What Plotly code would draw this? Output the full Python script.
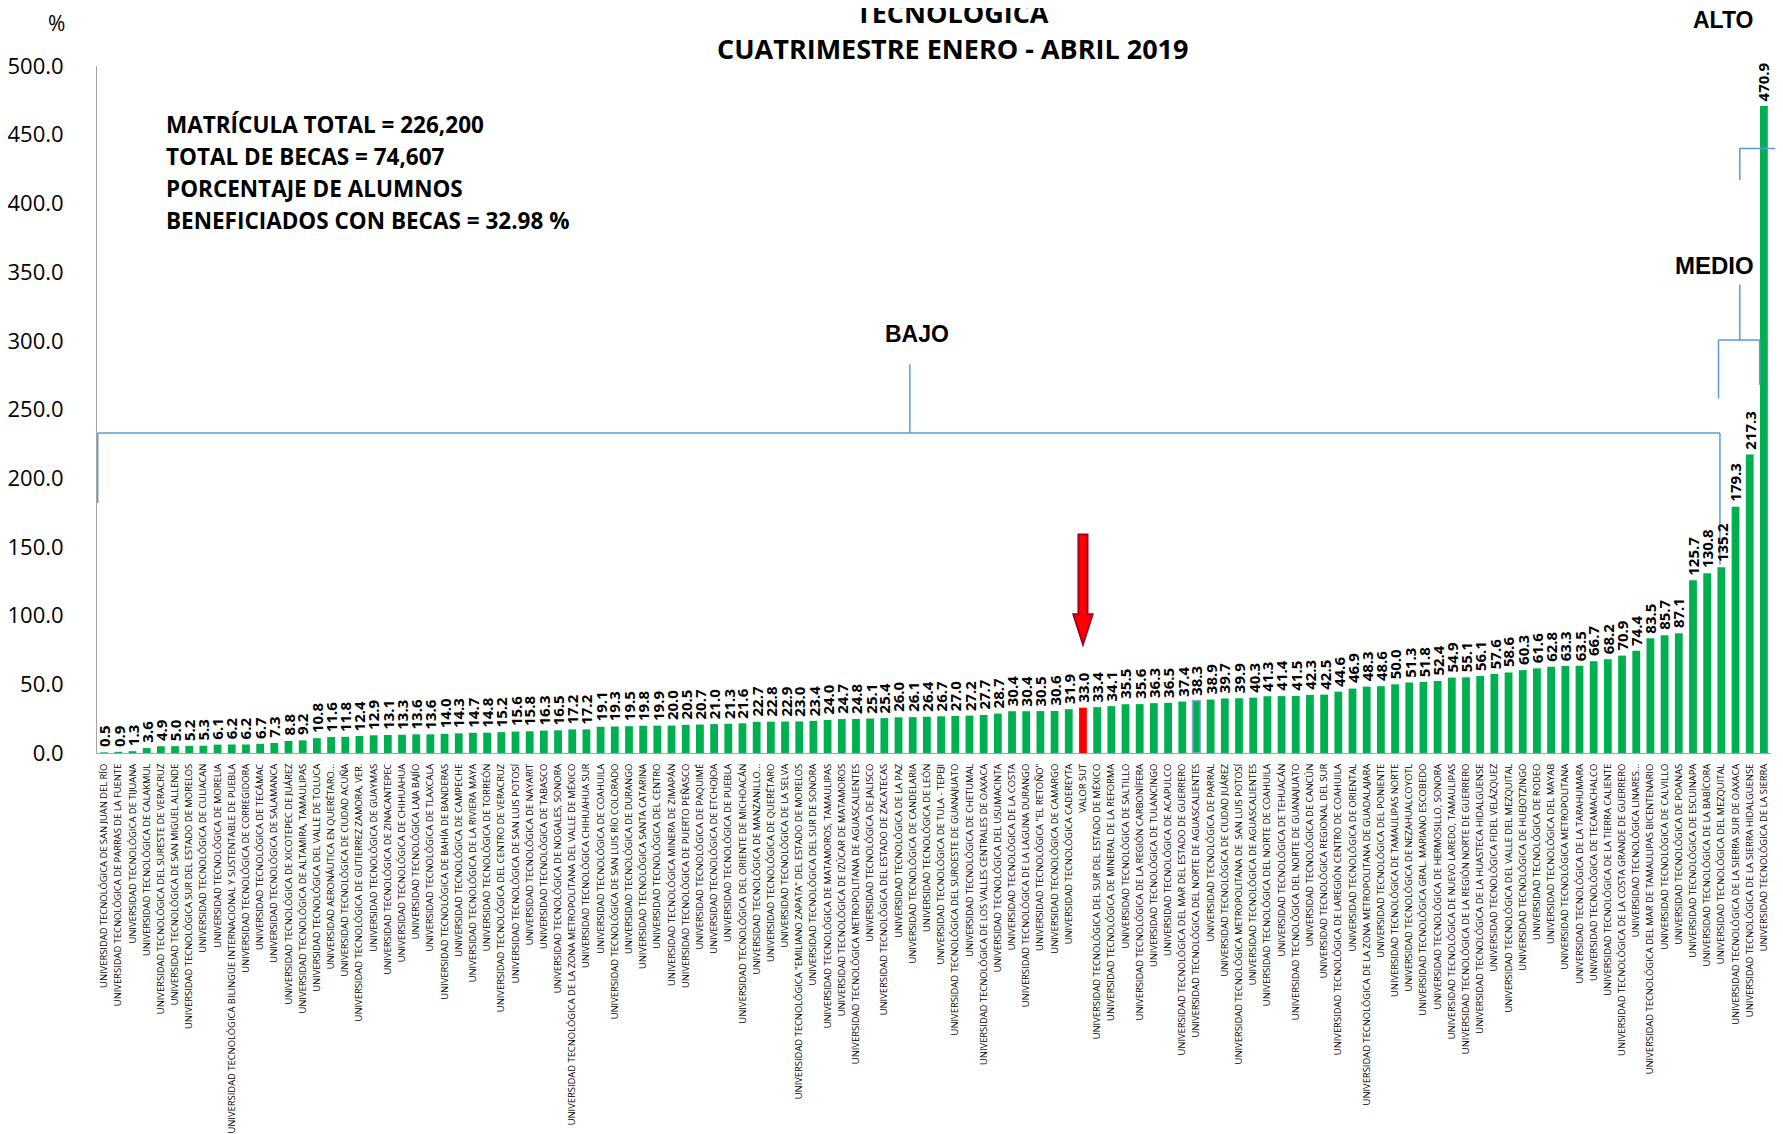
import plotly.graph_objects as go

universidades = [
    "UNIVERSIDAD TECNOLÓGICA DE SAN JUAN DEL RÍO",
    "UNIVERSIDAD TECNOLÓGICA DE PARRAS DE LA FUENTE",
    "UNIVERSIDAD TECNOLÓGICA DE TIJUANA",
    "UNIVERSIDAD TECNOLÓGICA DE CALAKMUL",
    "UNIVERSIDAD TECNOLÓGICA DEL SURESTE DE VERACRUZ",
    "UNIVERSIDAD TECNOLÓGICA DE SAN MIGUEL ALLENDE",
    "UNIVERSIDAD TECNOLÓGICA SUR DEL ESTADO DE MORELOS",
    "UNIVERSIDAD TECNOLÓGICA DE CULIACAN",
    "UNIVERSIDAD TECNOLÓGICA DE MORELIA",
    "UNIVERSIDAD TECNOLÓGICA BILINGÜE INTERNACIONAL Y SUSTENTABLE DE PUEBLA",
    "UNIVERSIDAD TECNOLÓGICA DE CORREGIDORA",
    "UNIVERSIDAD TECNOLÓGICA DE TECÁMAC",
    "UNIVERSIDAD TECNOLÓGICA DE SALAMANCA",
    "UNIVERSIDAD TECNOLÓGICA DE XICOTEPEC DE JUÁREZ",
    "UNIVERSIDAD TECNOLÓGICA DE ALTAMIRA, TAMAULIPAS",
    "UNIVERSIDAD TECNOLÓGICA DEL VALLE DE TOLUCA",
    "UNIVERSIDAD AERONÁUTICA EN QUERÉTARO...",
    "UNIVERSIDAD TECNOLÓGICA DE CIUDAD ACUÑA",
    "UNIVERSIDAD TECNOLÓGICA DE GUTIERREZ ZAMORA, VER.",
    "UNIVERSIDAD TECNOLÓGICA DE GUAYMAS",
    "UNIVERSIDAD TECNOLÓGICA DE ZINACANTEPEC",
    "UNIVERSIDAD TECNOLÓGICA DE CHIHUAHUA",
    "UNIVERSIDAD TECNOLÓGICA LAJA BAJÍO",
    "UNIVERSIDAD TECNOLÓGICA DE TLAXCALA",
    "UNIVERSIDAD TECNOLÓGICA DE BAHÍA DE BANDERAS",
    "UNIVERSIDAD TECNOLÓGICA DE CAMPECHE",
    "UNIVERSIDAD TECNOLÓGICA DE LA RIVIERA MAYA",
    "UNIVERSIDAD TECNOLÓGICA DE TORREÓN",
    "UNIVERSIDAD TECNOLÓGICA DEL CENTRO DE VERACRUZ",
    "UNIVERSIDAD TECNOLÓGICA DE SAN LUIS POTOSÍ",
    "UNIVERSIDAD TECNOLÓGICA DE NAYARIT",
    "UNIVERSIDAD TECNOLÓGICA DE TABASCO",
    "UNIVERSIDAD TECNOLÓGICA DE NOGALES, SONORA",
    "UNIVERSIDAD TECNOLÓGICA DE LA ZONA METROPOLITANA DEL VALLE DE MÉXICO",
    "UNIVERSIDAD TECNOLÓGICA CHIHUAHUA SUR",
    "UNIVERSIDAD TECNOLÓGICA DE COAHUILA",
    "UNIVERSIDAD TECNOLÓGICA DE SAN LUIS RÍO COLORADO",
    "UNIVERSIDAD TECNOLÓGICA DE DURANGO",
    "UNIVERSIDAD TECNOLÓGICA SANTA CATARINA",
    "UNIVERSIDAD TECNOLÓGICA DEL CENTRO",
    "UNIVERSIDAD TECNOLÓGICA MINERA DE ZIMAPÁN",
    "UNIVERSIDAD TECNOLÓGICA DE PUERTO PEÑASCO",
    "UNIVERSIDAD TECNOLÓGICA DE PAQUIMÉ",
    "UNIVERSIDAD TECNOLÓGICA DE ETCHOJOA",
    "UNIVERSIDAD TECNOLÓGICA DE PUEBLA",
    "UNIVERSIDAD TECNOLÓGICA DEL ORIENTE DE MICHOACÁN",
    "UNIVERSIDAD TECNOLÓGICA DE MANZANILLO...",
    "UNIVERSIDAD TECNOLÓGICA DE QUERÉTARO",
    "UNIVERSIDAD TECNOLÓGICA DE LA SELVA",
    "UNIVERSIDAD TECNOLÓGICA \"EMILIANO ZAPATA\" DEL ESTADO DE MORELOS",
    "UNIVERSIDAD TECNOLÓGICA DEL SUR DE SONORA",
    "UNIVERSIDAD TECNOLÓGICA DE MATAMOROS, TAMAULIPAS",
    "UNIVERSIDAD TECNOLÓGICA DE IZÚCAR DE MATAMOROS",
    "UNIVERSIDAD TECNOLÓGICA METROPOLITANA DE AGUASCALIENTES",
    "UNIVERSIDAD TECNOLÓGICA DE JALISCO",
    "UNIVERSIDAD TECNOLÓGICA DEL ESTADO DE ZACATECAS",
    "UNIVERSIDAD TECNOLÓGICA DE LA PAZ",
    "UNIVERSIDAD TECNOLÓGICA DE CANDELARIA",
    "UNIVERSIDAD TECNOLÓGICA DE LEÓN",
    "UNIVERSIDAD TECNOLÓGICA DE TULA - TEPEJI",
    "UNIVERSIDAD TECNOLÓGICA DEL SUROESTE DE GUANAJUATO",
    "UNIVERSIDAD TECNOLÓGICA DE CHETUMAL",
    "UNIVERSIDAD TECNOLÓGICA DE LOS VALLES CENTRALES DE OAXACA",
    "UNIVERSIDAD TECNOLÓGICA DEL USUMACINTA",
    "UNIVERSIDAD TECNOLÓGICA DE LA COSTA",
    "UNIVERSIDAD TECNOLÓGICA DE LA LAGUNA DURANGO",
    "UNIVERSIDAD TECNOLÓGICA \"EL RETOÑO\"",
    "UNIVERSIDAD TECNOLÓGICA DE CAMARGO",
    "UNIVERSIDAD TECNOLÓGICA CADEREYTA",
    "VALOR SUT",
    "UNIVERSIDAD TECNOLÓGICA DEL SUR DEL ESTADO DE MÉXICO",
    "UNIVERSIDAD TECNOLÓGICA DE MINERAL DE LA REFORMA",
    "UNIVERSIDAD TECNOLÓGICA DE SALTILLO",
    "UNIVERSIDAD TECNOLÓGICA DE LA REGIÓN CARBONÍFERA",
    "UNIVERSIDAD TECNOLÓGICA DE TULANCINGO",
    "UNIVERSIDAD TECNOLÓGICA DE ACAPULCO",
    "UNIVERSIDAD TECNOLÓGICA DEL MAR DEL ESTADO DE GUERRERO",
    "UNIVERSIDAD TECNOLÓGICA DEL NORTE DE AGUASCALIENTES",
    "UNIVERSIDAD TECNOLÓGICA DE PARRAL",
    "UNIVERSIDAD TECNOLÓGICA DE CIUDAD JUÁREZ",
    "UNIVERSIDAD TECNOLÓGICA METROPOLITANA DE  SAN LUIS POTOSÍ",
    "UNIVERSIDAD TECNOLÓGICA DE AGUASCALIENTES",
    "UNIVERSIDAD TECNOLÓGICA DEL NORTE DE COAHUILA",
    "UNIVERSIDAD TECNOLÓGICA DE TEHUACÁN",
    "UNIVERSIDAD TECNOLÓGICA DEL NORTE DE GUANAJUATO",
    "UNIVERSIDAD TECNOLÓGICA DE CANCÚN",
    "UNIVERSIDAD TECNOLÓGICA REGIONAL DEL SUR",
    "UNIVERSIDAD TECNOLÓGICA DE LAREGIÓN CENTRO DE COAHUILA",
    "UNIVERSIDAD TECNOLÓGICA DE ORIENTAL",
    "UNIVERSIDAD TECNOLÓGICA DE LA ZONA METROPOLITANA DE GUADALAJARA",
    "UNIVERSIDAD TECNOLÓGICA DEL PONIENTE",
    "UNIVERSIDAD TECNOLÓGICA DE TAMAULIPAS NORTE",
    "UNIVERSIDAD TECNOLÓGICA DE NEZAHUALCOYOTL",
    "UNIVERSIDAD TECNOLÓGICA GRAL. MARIANO ESCOBEDO",
    "UNIVERSIDAD TECNOLÓGICA DE HERMOSILLO, SONORA",
    "UNIVERSIDAD TECNOLÓGICA DE NUEVO LAREDO, TAMAULIPAS",
    "UNIVERSIDAD TECNOLÓGICA DE LA REGIÓN NORTE DE GUERRERO",
    "UNIVERSIDAD TECNOLÓGICA DE LA HUASTECA HIDALGUENSE",
    "UNIVERSIDAD TECNOLÓGICA FIDEL VELÁZQUEZ",
    "UNIVERSIDAD TECNOLÓGICA DEL VALLE DEL MEZQUITAL",
    "UNIVERSIDAD TECNOLÓGICA DE HUEJOTZINGO",
    "UNIVERSIDAD TECNOLÓGICA DE RODEO",
    "UNIVERSIDAD TECNOLÓGICA DEL MAYAB",
    "UNIVERSIDAD TECNOLÓGICA METROPOLITANA",
    "UNIVERSIDAD TECNOLÓGICA DE LA TARAHUMARA",
    "UNIVERSIDAD TECNOLÓGICA DE TECAMACHALCO",
    "UNIVERSIDAD TECNOLÓGICA DE LA TIERRA CALIENTE",
    "UNIVERSIDAD TECNOLÓGICA DE LA COSTA GRANDE DE GUERRERO",
    "UNIVERSIDAD TECNOLÓGICA LINARES...",
    "UNIVERSIDAD TECNOLÓGICA DEL MAR DE TAMAULIPAS BICENTENARIO",
    "UNIVERSIDAD TECNOLÓGICA DE CALVILLO",
    "UNIVERSIDAD TECNOLÓGICA DE POANAS",
    "UNIVERSIDAD TECNOLÓGICA DE ESCUINAPA",
    "UNIVERSIDAD TECNOLÓGICA DE LA BABÍCORA",
    "UNIVERSIDAD TECNOLÓGICA DEL MEZQUITAL",
    "UNIVERSIDAD TECNOLÓGICA DE LA SIERRA SUR DE OAXACA",
    "UNIVERSIDAD TECNOLÓGICA DE LA SIERRA HIDALGUENSE",
    "UNIVERSIDAD TECNOLÓGICA DE LA SIERRA",
]

porcentaje = [
    0.5, 0.9, 1.3, 3.6, 4.9, 5.0, 5.2, 5.3, 6.1, 6.2,
    6.2, 6.7, 7.3, 8.8, 9.2, 10.8, 11.6, 11.8, 12.4, 12.9,
    13.1, 13.3, 13.6, 13.6, 14.0, 14.3, 14.7, 14.8, 15.2, 15.6,
    15.8, 16.3, 16.5, 17.2, 17.2, 19.1, 19.3, 19.5, 19.8, 19.9,
    20.0, 20.5, 20.7, 21.0, 21.3, 21.6, 22.7, 22.8, 22.9, 23.0,
    23.4, 24.0, 24.7, 24.8, 25.1, 25.4, 26.0, 26.1, 26.4, 26.7,
    27.0, 27.2, 27.7, 28.7, 30.4, 30.4, 30.5, 30.6, 31.9, 33.0,
    33.4, 34.1, 35.5, 35.6, 36.3, 36.5, 37.4, 38.3, 38.9, 39.7,
    39.9, 40.3, 41.3, 41.4, 41.5, 42.3, 42.5, 44.6, 46.9, 48.3,
    48.6, 50.0, 51.3, 51.8, 52.4, 54.9, 55.1, 56.1, 57.6, 58.6,
    60.3, 61.6, 62.8, 63.3, 63.5, 66.7, 68.2, 70.9, 74.4, 83.5,
    85.7, 87.1, 125.7, 130.8, 135.2, 179.3, 217.3, 470.9,
]

y_ticks = [0, 50, 100, 150, 200, 250, 300, 350, 400, 450, 500]
resumen = [
    "MATRÍCULA TOTAL = 226,200",
    "TOTAL DE BECAS = 74,607",
    "PORCENTAJE DE ALUMNOS",
    "BENEFICIADOS CON BECAS = 32.98 %",
]

n = len(universidades)
pos = list(range(n))
sut = universidades.index("VALOR SUT")
destacada = universidades.index("UNIVERSIDAD TECNOLÓGICA DEL NORTE DE AGUASCALIENTES")

GREEN = "#00B050"
RED = "#FF0000"
BLUE = "#5B9BD5"

bar_colors = [RED if i == sut else GREEN for i in pos]
line_colors = ["#8FAADC" if i == destacada else "rgba(0,0,0,0)" for i in pos]

fig = go.Figure()
fig.add_trace(go.Bar(
    x=pos, y=porcentaje, width=0.55,
    marker=dict(color=bar_colors, line=dict(color=line_colors, width=1.5)),
    showlegend=False, hoverinfo="x+y",
))

shapes = []
def seg(x0, y0, x1, y1, xref="x"):
    shapes.append(dict(type="line", xref=xref, yref="y", x0=x0, y0=y0, x1=x1, y1=y1,
                       line=dict(color=BLUE, width=1.5), layer="above"))

# BAJO bracket
seg(-0.45, 232.9, 113.9, 232.9)
seg(-0.45, 232.9, -0.45, 182)
seg(113.9, 232.9, 113.9, 137)
seg(56.8, 232.9, 56.8, 283)
# MEDIO bracket
seg(113.8, 300.6, 116.7, 300.6)
seg(113.8, 300.6, 113.8, 258)
seg(116.7, 300.6, 116.7, 268)
seg(115.3, 300.6, 115.3, 341)
# ALTO bracket
seg(0.9813, 440, 1.02, 440, xref="paper")
seg(115.3, 440, 115.3, 417)

# red arrow over VALOR SUT
path = (f"M {sut-0.32},159 L {sut+0.32},159 L {sut+0.32},101 L {sut+0.68},101 "
        f"L {sut},79 L {sut-0.68},101 L {sut-0.32},101 Z")
shapes.append(dict(type="path", xref="x", yref="y", path=path, fillcolor=RED,
                   line=dict(color="#A50021", width=2), layer="above"))

annotations = []
# value labels
for i, v in zip(pos, porcentaje):
    annotations.append(dict(x=i, y=v, text=f"{v:.1f}", showarrow=False, xref="x", yref="y",
                            textangle=-90, xanchor="center", yanchor="bottom", yshift=3,
                            font=dict(family="Open Sans", size=15, color="black", weight="bold")))

annotations += [
    dict(x=0.5113, y=1.0786, text="TECNOLÓGICA", showarrow=False, xref="paper", yref="paper",
         xanchor="center", yanchor="middle",
         font=dict(family="Open Sans", size=27, color="black", weight="bold")),
    dict(x=0.5113, y=1.0262, text="CUATRIMESTRE ENERO - ABRIL 2019", showarrow=False,
         xref="paper", yref="paper", xanchor="center", yanchor="middle",
         font=dict(family="Open Sans", size=27, color="black", weight="bold")),
    dict(x=-0.0239, y=1.0626, text="%", showarrow=False, xref="paper", yref="paper",
         xanchor="center", yanchor="middle", borderpad=0,
         font=dict(family="Open Sans", size=21, color="black")),
    dict(x=57.3, y=305, text="BAJO", showarrow=False, xref="x", yref="y",
         xanchor="center", yanchor="middle",
         font=dict(family="Liberation Sans", size=23, color="black", weight="bold")),
    dict(x=113.5, y=355, text="MEDIO", showarrow=False, xref="x", yref="y",
         xanchor="center", yanchor="middle",
         font=dict(family="Liberation Sans", size=24, color="black", weight="bold")),
    dict(x=0.9713, y=1.0670, text="ALTO", showarrow=False, xref="paper", yref="paper",
         xanchor="center", yanchor="middle",
         font=dict(family="Liberation Sans", size=23, color="black", weight="bold")),
]
for txt, yv in zip(resumen, [457.1, 433.8, 410.5, 387.2]):
    annotations.append(dict(x=4.22, y=yv, text=txt, showarrow=False, xref="x", yref="y",
                            xanchor="left", yanchor="middle",
                            font=dict(family="Open Sans", size=22.5, color="black", weight="bold")))

fig.update_layout(
    width=1775, height=1126, autosize=False,
    margin=dict(l=89, r=12, t=58, b=381),
    paper_bgcolor="white", plot_bgcolor="white",
    shapes=shapes, annotations=annotations,
    xaxis=dict(range=[-0.5, n - 0.5], tickmode="array", tickvals=pos, ticktext=universidades,
               tickangle=-90, ticks="", showgrid=False, zeroline=False,
               showline=True, linecolor="#A6A6A6", linewidth=1,
               tickfont=dict(family="Open Sans", size=9.4, color="black"),
               ticklabelstandoff=6, automargin=False),
    yaxis=dict(range=[0, 500], tickmode="array", tickvals=y_ticks,
               ticktext=[f"{v:.1f}" for v in y_ticks], ticks="", showgrid=False,
               zeroline=False, showline=True, linecolor="#A6A6A6", linewidth=1,
               tickfont=dict(family="Open Sans", size=22, color="black"),
               ticklabelstandoff=28, automargin=False),
)

fig.write_html("out.html")
